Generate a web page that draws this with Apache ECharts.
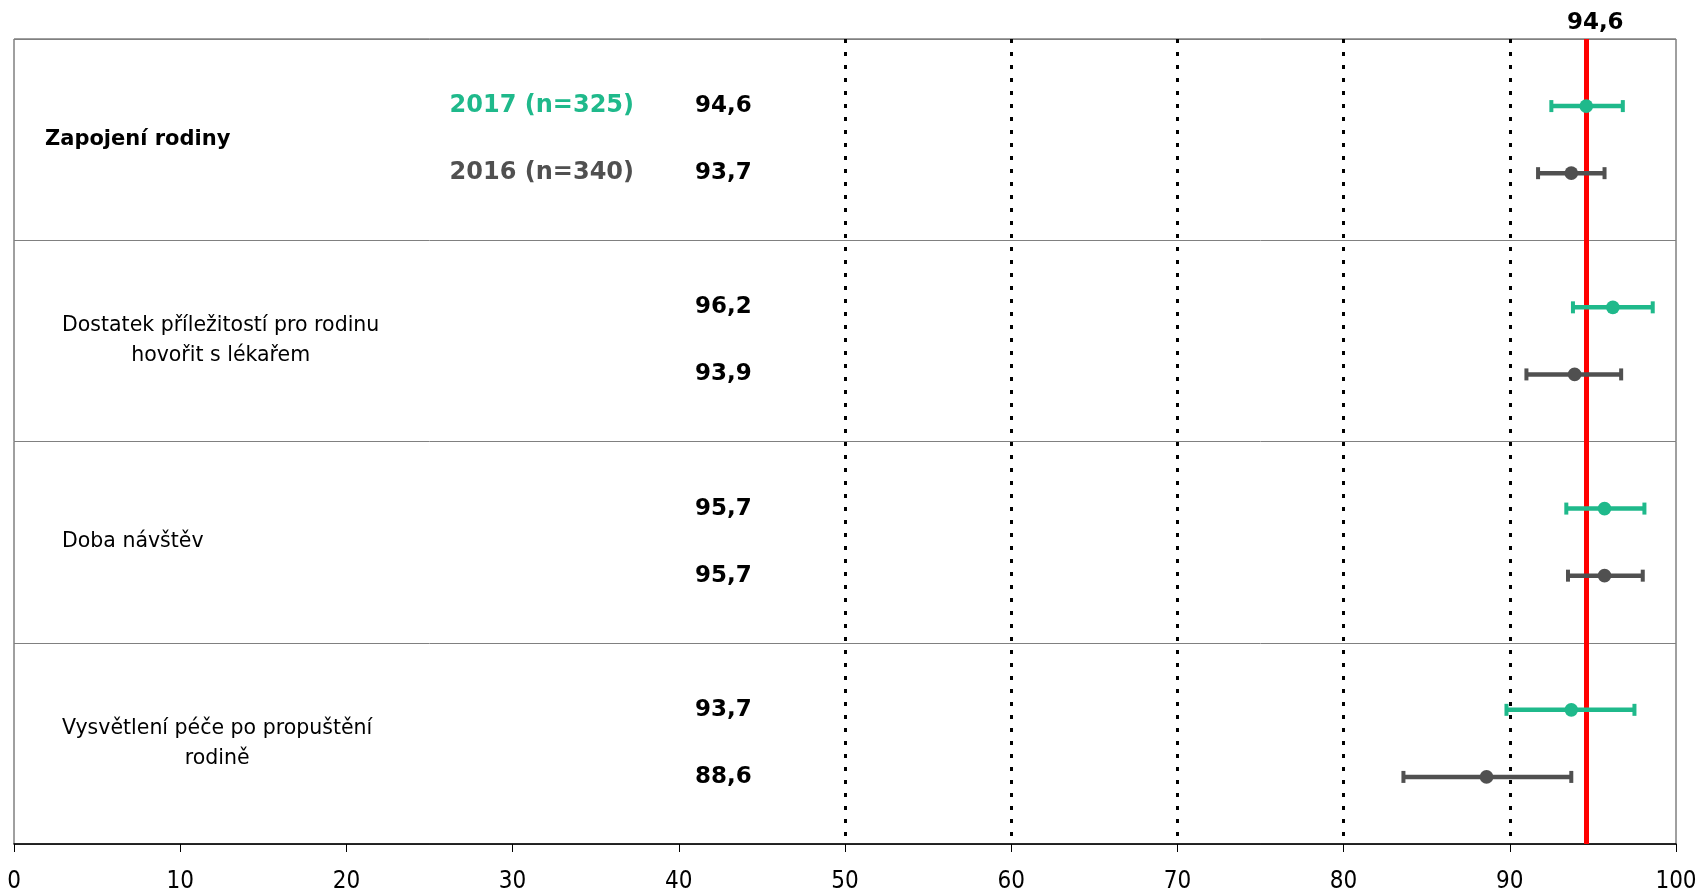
<!DOCTYPE html>
<html>
<head>
<meta charset="utf-8">
<script src="https://cdn.jsdelivr.net/npm/echarts@6/dist/echarts.min.js"></script>
<style>
html,body{margin:0;padding:0;background:#fff;}
#chart{width:1698px;height:891px;}
</style>
</head>
<body>
<div id="chart"></div>
<script>
// ---- data ----
const categories = ['Zapojení rodiny', 'Dostatek příležitostí pro rodinu\nhovořit s lékařem', 'Doba návštěv', 'Vysvětlení péče po propuštění\nrodině'];
const years = ['2017 (n=325)', '2016 (n=340)'];
const values2017 = [94.6, 96.2, 95.7, 93.7];
const low2017 = [92.5, 93.8, 93.4, 89.8];
const high2017 = [96.8, 98.6, 98.1, 97.5];
const values2016 = [93.7, 93.9, 95.7, 88.6];
const low2016 = [91.7, 91.0, 93.5, 83.6];
const high2016 = [95.7, 96.7, 98.0, 93.7];
const referenceValue = 94.6;
const dottedLines = [50, 60, 70, 80, 90];
const xMin = 0, xMax = 100, xStep = 10;

// ---- styles ----
const FONT = '"DejaVu Sans", sans-serif';
const FONT_C = '"DejaVu Sans Condensed", "DejaVu Sans", sans-serif';
const colors = ['#1FB98B', '#505050'];
const fmt = v => v.toFixed(1).replace('.', ',');

const chart = echarts.init(document.getElementById('chart'));

function makeSeries(yearIdx, vals, lows, highs) {
  const data = vals.map((v, i) => [v, lows[i], highs[i], i * 3 + 1 + yearIdx, i]);
  return {
    type: 'custom',
    name: years[yearIdx],
    clip: false,
    z: 5,
    data: data,
    renderItem: function (params, api) {
      const y = api.coord([0, api.value(3)])[1];
      const xv = api.coord([api.value(0), 0])[0];
      const xl = api.coord([api.value(1), 0])[0];
      const xh = api.coord([api.value(2), 0])[0];
      const c = colors[yearIdx];
      const gx = params.coordSys.x;
      const children = [
        {type: 'line', shape: {x1: xl, y1: y, x2: xh, y2: y}, style: {stroke: c, lineWidth: 4.5}},
        {type: 'line', shape: {x1: xl, y1: y - 6, x2: xl, y2: y + 6}, style: {stroke: c, lineWidth: 4}},
        {type: 'line', shape: {x1: xh, y1: y - 6, x2: xh, y2: y + 6}, style: {stroke: c, lineWidth: 4}},
        {type: 'circle', shape: {cx: xv, cy: y, r: 6.8}, style: {fill: c}},
        {type: 'text', style: {text: fmt(api.value(0)), x: gx + 681, y: y, fill: '#000',
          font: 'bold 23px ' + FONT, align: 'left', verticalAlign: 'middle'}}
      ];
      if (api.value(4) === 0) {
        children.push({type: 'text', style: {text: years[yearIdx], x: gx + 620, y: y, fill: c,
          font: 'bold 24px ' + FONT, align: 'right', verticalAlign: 'middle'}});
      }
      return {type: 'group', children: children};
    }
  };
}

const s1 = makeSeries(0, values2017, low2017, high2017);
s1.markLine = {
  silent: true,
  symbol: 'none',
  animation: false,
  data: dottedLines.map(v => ({xAxis: v, lineStyle: {color: '#000', width: 3, type: [4, 9]}, label: {show: false}}))
    .concat([{xAxis: referenceValue, lineStyle: {color: '#FF0000', width: 5, type: 'solid'},
      label: {show: true, position: 'start', formatter: fmt(referenceValue), color: '#000',
        fontFamily: FONT, fontWeight: 'bold', fontSize: 23, distance: 4, offset: [9, 0]}}])
};
const s2 = makeSeries(1, values2016, low2016, high2016);

chart.setOption({
  animation: false,
  grid: {left: 14, right: 22, top: 39, bottom: 47, show: true, borderColor: '#404040', borderWidth: 1,
    backgroundColor: 'transparent', containLabel: false, outerBoundsMode: 'none'},
  xAxis: {
    type: 'value', min: xMin, max: xMax, interval: xStep, position: 'bottom',
    axisLine: {show: true, onZero: false, lineStyle: {color: '#000', width: 1.5}},
    axisTick: {show: true, length: 8, lineStyle: {color: '#000'}},
    axisLabel: {color: '#000', fontFamily: FONT_C, fontSize: 24, margin: 26},
    splitLine: {show: false}
  },
  yAxis: {
    type: 'value', min: 0, max: 12, interval: 3, inverse: true,
    axisLine: {show: false}, axisTick: {show: false}, axisLabel: {show: false},
    splitLine: {show: true, lineStyle: {color: '#808080', width: 1}}
  },
  series: [s1, s2]
});

// row labels, positioned through the y axis scale
const ctx = document.createElement('canvas').getContext('2d');
const graphics = categories.map((cat, i) => {
  const y = chart.convertToPixel({gridIndex: 0}, [0, i * 3 + 1.5])[1];
  const bold = i === 0;
  const font = (bold ? 'bold 21px ' : '20.5px ') + FONT;
  ctx.font = font;
  const lines = cat.split('\n');
  const w = Math.max(...lines.map(l => ctx.measureText(l).width));
  const left = bold ? 45 : 62;
  return {type: 'text', x: left + w / 2, y: y,
    style: {text: cat, font: font, fill: '#000', align: 'center', verticalAlign: 'middle', lineHeight: 30}};
});
chart.setOption({graphic: graphics});
</script>
</body>
</html>
